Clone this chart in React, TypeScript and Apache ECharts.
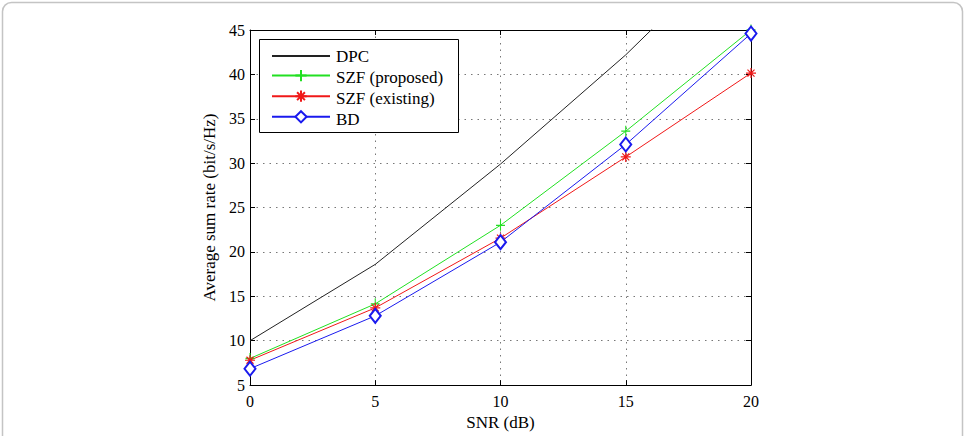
import React, { useEffect, useRef } from "react";
import * as echarts from "echarts";

const snr = [0, 5, 10, 15, 20];
const dpc = [10, 18.6, 29.9, 42.2, 56];
const szfProposed = [8.0, 14.15, 23.0, 33.6, 45.0];
const szfExisting = [7.8, 13.7, 21.55, 30.7, 40.15];
const bd = [6.85, 12.8, 21.1, 32.1, 44.6];

const seriesNames = ["DPC", "SZF (proposed)", "SZF (existing)", "BD"];
const xTitle = "SNR (dB)";
const yTitle = "Average sum rate (bit/s/Hz)";

const FONT = "Liberation Serif";

const plusPath = "path://M5,0L5,10M0,5L10,5";
const starPath = "path://M5,0L5,10M0,5L10,5M1.5,1.5L8.5,8.5M8.5,1.5L1.5,8.5";

export default function App() {
  const ref = useRef<HTMLDivElement>(null);
  useEffect(() => {
    if (!ref.current) return;
    const chart = echarts.init(ref.current, undefined, { renderer: "svg" });
    const pts = (ys: number[]) => snr.map((x, i) => [x, ys[i]]);
    const grid = { left: 250, right: 214, top: 30, bottom: 46 };
    const axisLineStyle = { color: "#000", width: 1 };
    const split = { show: true, lineStyle: { color: "#777", type: [1.5, 5], width: 1 } };

    const legendTop = 49;
    const itemH = 14;
    const itemGap = 7;
    const legendTexts = seriesNames.map((n, i) => ({
      type: "text",
      z: 10,
      silent: true,
      x: 336,
      y: legendTop + itemH / 2 + i * (itemH + itemGap),
      style: {
        text: n,
        fontFamily: FONT,
        fontSize: 17,
        fill: "#000",
        verticalAlign: "middle",
        align: "left",
      },
    }));

    chart.setOption({
      animation: false,
      backgroundColor: "#fff",
      textStyle: { fontFamily: FONT },
      graphic: [
        {
          type: "rect",
          silent: true,
          shape: { x: 2.5, y: 2.5, width: 960, height: 460, r: 9 },
          style: { fill: "none", stroke: "#c4c4c4", lineWidth: 1.5 },
        },
        {
          type: "rect",
          silent: true,
          z: 3,
          shape: { x: 259.5, y: 39.5, width: 199, height: 93 },
          style: { fill: "#fff", stroke: "#000", lineWidth: 1 },
        },
        ...legendTexts,
      ],
      grid,
      legend: {
        data: [
          { name: seriesNames[0], itemStyle: { opacity: 0 } },
          { name: seriesNames[1] },
          { name: seriesNames[2] },
          { name: seriesNames[3] },
        ],
        orient: "vertical",
        left: 271,
        top: legendTop,
        itemWidth: 58,
        itemHeight: itemH,
        itemGap: itemGap,
        padding: 0,
        z: 6,
        formatter: () => "",
        selectedMode: false,
      },
      xAxis: [
        {
          type: "value",
          min: 0,
          max: 20,
          interval: 5,
          name: xTitle,
          nameLocation: "middle",
          nameGap: 22,
          nameTextStyle: { fontFamily: FONT, fontSize: 17, color: "#000" },
          axisLine: { show: true, lineStyle: axisLineStyle },
          axisTick: { show: true, inside: true, length: 5, lineStyle: axisLineStyle },
          axisLabel: { fontFamily: FONT, fontSize: 16, color: "#000", margin: 8 },
          splitLine: split,
        },
        {
          type: "value",
          position: "top",
          min: 0,
          max: 20,
          interval: 5,
          axisLine: { show: true, onZero: false, lineStyle: axisLineStyle },
          axisTick: { show: true, inside: true, length: 5, lineStyle: axisLineStyle },
          axisLabel: { show: false },
          splitLine: { show: false },
        },
      ],
      yAxis: [
        {
          type: "value",
          min: 5,
          max: 45,
          interval: 5,
          name: yTitle,
          nameLocation: "middle",
          nameGap: 24,
          nameTextStyle: { fontFamily: FONT, fontSize: 17, color: "#000" },
          axisLine: { show: true, lineStyle: axisLineStyle },
          axisTick: { show: true, inside: true, length: 5, lineStyle: axisLineStyle },
          axisLabel: { fontFamily: FONT, fontSize: 16, color: "#000", margin: 5 },
          splitLine: split,
        },
        {
          type: "value",
          position: "right",
          min: 5,
          max: 45,
          interval: 5,
          axisLine: { show: true, onZero: false, lineStyle: axisLineStyle },
          axisTick: { show: true, inside: true, length: 5, lineStyle: axisLineStyle },
          axisLabel: { show: false },
          splitLine: { show: false },
        },
      ],
      series: [
        {
          name: seriesNames[0],
          type: "line",
          data: pts(dpc),
          symbol: "none",
          lineStyle: { color: "#222", width: 1 },
          itemStyle: { color: "#222" },
        },
        {
          name: seriesNames[1],
          type: "line",
          data: pts(szfProposed),
          symbol: plusPath,
          symbolSize: [9, 11],
          lineStyle: { color: "#22e022", width: 1 },
          itemStyle: { color: "#22e022", borderColor: "#22e022", borderWidth: 1.2 },
        },
        {
          name: seriesNames[2],
          type: "line",
          data: pts(szfExisting),
          symbol: starPath,
          symbolSize: 10,
          lineStyle: { color: "#f01818", width: 1 },
          itemStyle: { color: "#f01818", borderColor: "#f01818", borderWidth: 1.2 },
        },
        {
          name: seriesNames[3],
          type: "line",
          data: pts(bd),
          symbol: "emptyDiamond",
          symbolSize: [11, 14],
          lineStyle: { color: "#1a1aee", width: 1 },
          itemStyle: { color: "#1a1aee", borderColor: "#1a1aee", borderWidth: 1.2 },
        },
      ],
    });
    return () => chart.dispose();
  }, []);
  return (
    <div
      ref={ref}
      style={{ position: "fixed", left: 0, top: 0, width: 965, height: 436, background: "#fff" }}
    />
  );
}
